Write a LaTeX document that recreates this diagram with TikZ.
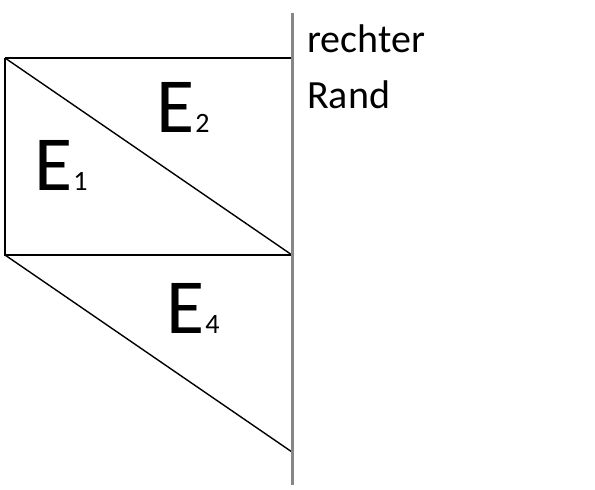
\documentclass[tikz,border=0pt]{standalone}
\usepackage{fontspec}
\setmainfont{Carlito}
\usepackage{tikz}
\definecolor{clrRand}{RGB}{135,135,135}
\newcommand{\Feld}[1]{{\fontsize{78}{80}\selectfont E}\hspace{1pt}{\fontsize{28}{30}\selectfont #1}}
\tikzset{
  frame/.style={draw=black,line width=2pt},
  diag/.style={draw=black,line width=1.4pt},
  rand/.style={draw=clrRand,line width=3pt},
  flabel/.style={anchor=base west,inner sep=0pt},
  randtext/.style={anchor=base west,inner sep=0pt,font=\fontsize{40}{55}\selectfont}
}
\begin{document}
\begin{tikzpicture}[x=1pt,y=-1pt]
  \useasboundingbox (0,0) rectangle (595,490);

  % corners of the fields
  \coordinate (tl) at (5,58);
  \coordinate (tr) at (292,58);
  \coordinate (ml) at (5,255);
  \coordinate (mr) at (292,255);
  \coordinate (br) at (292,452);
  \coordinate (randtop) at (292,13);
  \coordinate (randbot) at (292,485);

  \draw[frame] (tl) -- (tr);
  \draw[frame] (tl) -- (ml) -- (mr);
  \draw[diag] (tl) -- (mr);
  \draw[diag] (ml) -- (br);

  \node[flabel] (e1) at (34,190) {\Feld{1}};
  \node[flabel] (e2) at (156,132) {\Feld{2}};
  \node[flabel] (e4) at (166,333) {\Feld{4}};

  \draw[rand] (randtop) -- (randbot);

  \node[randtext] (rechter) at (307,52) {rechter};
  \node[randtext] (rand) at (307,108) {Rand};
\end{tikzpicture}
\end{document}
